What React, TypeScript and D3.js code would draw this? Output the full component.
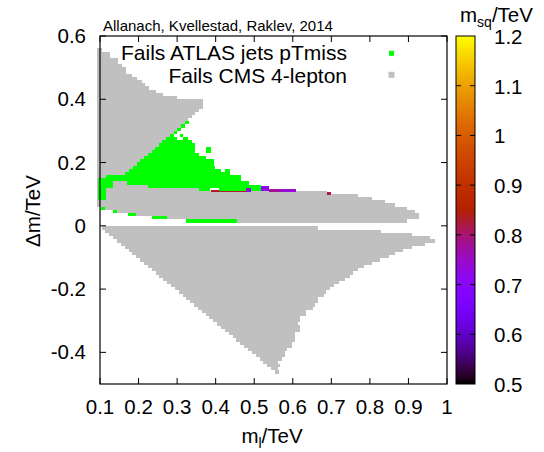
import React from "react";
import * as d3 from "d3";

// ---------- data ----------
const xTicks = [0.1, 0.2, 0.3, 0.4, 0.5, 0.6, 0.7, 0.8, 0.9, 1.0];
const yTicks = [-0.4, -0.2, 0, 0.2, 0.4, 0.6];
const cbTicks = [0.5, 0.6, 0.7, 0.8, 0.9, 1.0, 1.1, 1.2];

// rows: [delta m (row centre), m_l from, m_l to]
const upperGray: [number, number, number][] = [
  [0.5555, 0.0935, 0.106], [0.5455, 0.0935, 0.126], [0.5355, 0.0935, 0.126],
  [0.5255, 0.0935, 0.147], [0.5155, 0.0935, 0.147], [0.5055, 0.0935, 0.156],
  [0.4955, 0.0935, 0.167], [0.4855, 0.0935, 0.167], [0.4755, 0.0935, 0.184],
  [0.4655, 0.0935, 0.195], [0.4555, 0.0935, 0.208], [0.4455, 0.0935, 0.217],
  [0.4355, 0.0935, 0.227], [0.4255, 0.0935, 0.245], [0.4155, 0.0935, 0.264],
  [0.4055, 0.0935, 0.299], [0.3955, 0.0935, 0.368], [0.3855, 0.0935, 0.368],
  [0.3755, 0.0935, 0.368], [0.3655, 0.0935, 0.357], [0.3555, 0.0935, 0.346],
  [0.3455, 0.0935, 0.338], [0.3355, 0.0935, 0.327], [0.3255, 0.0935, 0.320],
  [0.3155, 0.0935, 0.310], [0.3055, 0.0935, 0.301], [0.2955, 0.0935, 0.291],
  [0.2855, 0.0935, 0.282], [0.2755, 0.0935, 0.272], [0.2655, 0.0935, 0.262],
  [0.2555, 0.0935, 0.253], [0.2455, 0.0935, 0.243], [0.2355, 0.0935, 0.234],
  [0.2255, 0.0935, 0.224], [0.2155, 0.0935, 0.214], [0.2055, 0.0935, 0.205],
  [0.1955, 0.0935, 0.195], [0.1855, 0.0935, 0.186], [0.1755, 0.0935, 0.176],
  [0.1655, 0.0935, 0.166], [0.1555, 0.0935, 0.157], [0.1455, 0.0935, 0.200],
  [0.1355, 0.0935, 0.200], [0.1255, 0.0935, 0.250], [0.1155, 0.0935, 0.3565],
];

const bandGray: [number, number, number][] = [
  [0.1055, 0.0935, 0.688], [0.0955, 0.0935, 0.768], [0.0855, 0.0935, 0.806],
  [0.0755, 0.0935, 0.838], [0.0655, 0.0935, 0.866], [0.0555, 0.113, 0.897],
  [0.0455, 0.1433, 0.918], [0.0355, 0.1925, 0.928], [0.0255, 0.2728, 0.928],
  [0.0155, 0.4541, 0.897],
];

const lowerGray: [number, number, number][] = [
  [-0.007, 0.104, 0.666], [-0.017, 0.114, 0.828], [-0.027, 0.124, 0.908],
  [-0.038, 0.134, 0.957], [-0.048, 0.144, 0.968], [-0.058, 0.154, 0.942],
  [-0.068, 0.164, 0.910], [-0.078, 0.174, 0.886], [-0.088, 0.184, 0.866],
  [-0.098, 0.194, 0.849], [-0.108, 0.204, 0.827], [-0.118, 0.214, 0.806],
  [-0.128, 0.224, 0.784], [-0.139, 0.234, 0.768], [-0.149, 0.244, 0.756],
  [-0.159, 0.254, 0.748], [-0.169, 0.264, 0.735], [-0.179, 0.274, 0.719],
  [-0.189, 0.284, 0.706], [-0.199, 0.294, 0.696], [-0.209, 0.304, 0.687],
  [-0.219, 0.314, 0.680], [-0.229, 0.324, 0.666], [-0.240, 0.334, 0.666],
  [-0.250, 0.344, 0.657], [-0.260, 0.354, 0.652], [-0.270, 0.364, 0.635],
  [-0.280, 0.374, 0.635], [-0.290, 0.384, 0.618], [-0.300, 0.394, 0.618],
  [-0.310, 0.404, 0.614], [-0.320, 0.414, 0.618], [-0.330, 0.424, 0.618],
  [-0.341, 0.434, 0.605], [-0.351, 0.444, 0.605], [-0.361, 0.454, 0.607],
  [-0.371, 0.464, 0.597], [-0.381, 0.474, 0.597], [-0.391, 0.484, 0.584],
  [-0.401, 0.494, 0.579], [-0.411, 0.504, 0.579], [-0.421, 0.514, 0.571],
  [-0.431, 0.524, 0.562], [-0.442, 0.534, 0.566], [-0.452, 0.544, 0.562],
  [-0.462, 0.554, 0.564],
];

const greenRows: [number, number, number][] = [
  [0.3255, 0.320, 0.330], [0.3155, 0.310, 0.320], [0.3055, 0.301, 0.311],
  [0.2955, 0.291, 0.301], [0.2855, 0.282, 0.292], [0.2855, 0.307, 0.316],
  [0.2755, 0.272, 0.299], [0.2755, 0.316, 0.329],
  [0.2655, 0.262, 0.3376], [0.2555, 0.253, 0.346],
  [0.2455, 0.243, 0.346], [0.2455, 0.375, 0.387],
  [0.2355, 0.234, 0.346], [0.2355, 0.375, 0.387],
  [0.2255, 0.224, 0.356], [0.2155, 0.214, 0.376], [0.2055, 0.205, 0.396],
  [0.1955, 0.195, 0.396], [0.1855, 0.186, 0.398],
  [0.1755, 0.176, 0.415], [0.1755, 0.424, 0.437],
  [0.1655, 0.166, 0.437], [0.1555, 0.1155, 0.467], [0.1455, 0.095, 0.467],
  [0.1355, 0.095, 0.1337], [0.1355, 0.170, 0.486],
  [0.1255, 0.095, 0.1337], [0.1255, 0.2244, 0.517],
  [0.1155, 0.095, 0.1155], [0.1155, 0.3565, 0.385], [0.1155, 0.408, 0.478],
  [0.1155, 0.4927, 0.517],
  [0.1055, 0.095, 0.1155], [0.0955, 0.095, 0.1155], [0.0855, 0.095, 0.1155],
  [0.0555, 0.1026, 0.113], [0.0455, 0.1345, 0.1433], [0.0355, 0.1733, 0.1925],
  [0.0255, 0.2355, 0.2728], [0.0155, 0.3228, 0.4541],
];

// passing points coloured by m_sq: [m_l from, m_l to, dm top, dm bottom, m_sq]
const passing: [number, number, number, number, number][] = [
  [0.3876, 0.4782, 0.1137, 0.1074, 0.83],
  [0.4782, 0.4927, 0.121, 0.1083, 0.73],
  [0.517, 0.5376, 0.1273, 0.1106, 0.72],
  [0.5376, 0.5687, 0.1169, 0.1074, 0.78],
  [0.5687, 0.6088, 0.1169, 0.1074, 0.74],
  [0.6876, 0.6995, 0.1074, 0.098, 0.82],
];

const legendItems = [
  { label: "Fails ATLAS jets pTmiss", color: "#00ff00", size: 5 },
  { label: "Fails CMS 4-lepton", color: "#c0c0c0", size: 6 },
];

// ---------- layout ----------
const W = 544, H = 452;
const L = 100, R = 447, T = 36, B = 384;
const CBL = 456, CBR = 475;
const FONT = "'Liberation Sans', Arial, Helvetica, sans-serif";
const GRAY = "#c0c0c0";
const GREEN = "#00ff00";
const ROWH = 0.0102;

const x = d3.scaleLinear().domain([0.1, 1.0]).range([L, R]);
const y = d3.scaleLinear().domain([-0.5, 0.6]).range([B, T]);
const cb = d3.scaleLinear().domain([0.5, 1.2]).range([B, T]);

// gnuplot default palette (rgbformulae 7,5,15)
function palette(v: number): string {
  const t = Math.max(0, Math.min(1, (v - 0.5) / 0.7));
  const r = Math.sqrt(t);
  const g = t * t * t;
  const b = Math.max(0, Math.sin(2 * Math.PI * t));
  return d3.rgb(r * 255, g * 255, b * 255).formatHex();
}

const fmt = (v: number) => String(+v.toFixed(1));

function rowRects(rows: [number, number, number][], color: string, key: string) {
  return rows.map(([dm, lo, hi], i) => (
    <rect
      key={key + i}
      x={x(lo)}
      width={x(hi) - x(lo)}
      y={y(dm + ROWH / 2)}
      height={y(dm - ROWH / 2) - y(dm + ROWH / 2)}
      fill={color}
    />
  ));
}

export default function App() {
  const stops = d3.range(0, 1.0001, 0.02);
  const fs = 20.5;
  return (
    <svg
      width={W}
      height={H}
      style={{ position: "absolute", left: 0, top: 0, background: "#fff" }}
      fontFamily={FONT}
    >
      <defs>
        <linearGradient id="cbg" x1="0" y1="1" x2="0" y2="0">
          {stops.map((s, i) => (
            <stop key={i} offset={s} stopColor={palette(0.5 + s * 0.7)} />
          ))}
        </linearGradient>
      </defs>
      <rect width={W} height={H} fill="#fff" />

      {/* cells */}
      <g shapeRendering="crispEdges">
        {rowRects(upperGray, GRAY, "u")}
        {rowRects(bandGray, GRAY, "b")}
        {rowRects(lowerGray, GRAY, "l")}
        {passing.map(([lo, hi, top, bot, m], i) => (
          <rect
            key={"p" + i}
            x={x(lo)}
            width={x(hi) - x(lo)}
            y={y(top)}
            height={y(bot) - y(top)}
            fill={palette(m)}
          />
        ))}
        {rowRects(greenRows, GREEN, "g")}
      </g>

      {/* frame */}
      <rect x={L} y={T} width={R - L} height={B - T} fill="none" stroke="#000" strokeWidth={1.2} />
      {xTicks.map((v, i) => (
        <g key={"xt" + i}>
          <line x1={x(v)} x2={x(v)} y1={B} y2={B - 6} stroke="#000" />
          <line x1={x(v)} x2={x(v)} y1={T} y2={T + 6} stroke="#000" />
          <text x={x(v)} y={414} textAnchor="middle" fontSize={fs}>{fmt(v)}</text>
        </g>
      ))}
      {yTicks.map((v, i) => (
        <g key={"yt" + i}>
          <line x1={L} x2={L + 6} y1={y(v)} y2={y(v)} stroke="#000" />
          <line x1={R} x2={R - 6} y1={y(v)} y2={y(v)} stroke="#000" />
          <text x={86} y={y(v) + 7} textAnchor="end" fontSize={fs}>{fmt(v)}</text>
        </g>
      ))}

      {/* axis labels */}
      <text x={272} y={443} textAnchor="middle" fontSize={fs}>
        m<tspan fontSize={14} dy={5}>l</tspan><tspan dy={-5}>/TeV</tspan>
      </text>
      <text transform={`translate(40,211) rotate(-90)`} textAnchor="middle" fontSize={fs}>
        Δm/TeV
      </text>

      {/* credit */}
      <text x={103} y={30.5} fontSize={15}>Allanach, Kvellestad, Raklev, 2014</text>

      {/* legend */}
      {legendItems.map((d, i) => (
        <g key={"lg" + i}>
          <text x={347} y={60 + i * 23} textAnchor="end" fontSize={21}>{d.label}</text>
          <rect
            x={391.5 - d.size / 2}
            y={53.3 + i * 21.5 - d.size / 2}
            width={d.size}
            height={d.size}
            fill={d.color}
          />
        </g>
      ))}

      {/* colour box */}
      <rect x={CBL} y={T} width={CBR - CBL} height={B - T} fill="url(#cbg)" stroke="#000" strokeWidth={1} />
      {cbTicks.map((v, i) => (
        <g key={"cb" + i}>
          {v > 0.5 && v < 1.2 && (
            <>
              <line x1={CBL} x2={CBL + 5} y1={cb(v)} y2={cb(v)} stroke="#000" />
              <line x1={CBR} x2={CBR - 5} y1={cb(v)} y2={cb(v)} stroke="#000" />
            </>
          )}
          <text x={494} y={cb(v) + 8} fontSize={fs}>{fmt(v)}</text>
        </g>
      ))}
      <text x={460} y={21.7} fontSize={20.5}>
        m<tspan fontSize={14} dy={5}>sq</tspan><tspan dy={-5}>/TeV</tspan>
      </text>
    </svg>
  );
}
